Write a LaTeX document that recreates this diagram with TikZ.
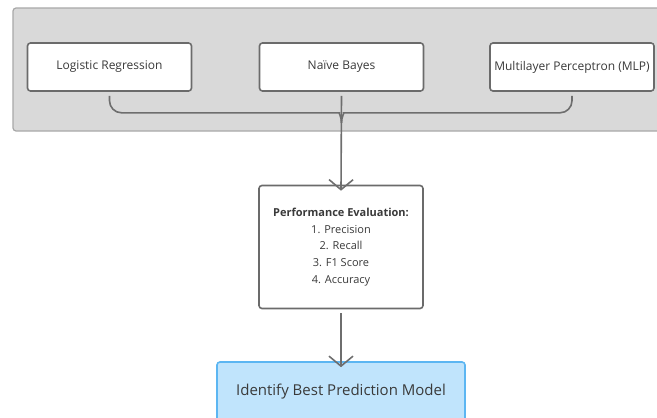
\documentclass[tikz,border=0pt]{standalone}
\usepackage{fontspec}
\setmainfont{Open Sans}
\usepackage{tikz}
\usetikzlibrary{arrows, arrows.meta}
\usetikzlibrary{positioning, calc}
\definecolor{panelgray}{HTML}{D9D9D9}
\definecolor{panelline}{HTML}{A8A8A8}
\definecolor{boxline}{HTML}{6B6B6B}
\definecolor{linkgray}{HTML}{6E6E6E}
\definecolor{textgray}{HTML}{3A3A3A}
\definecolor{bluefill}{HTML}{C0E4FC}
\definecolor{blueline}{HTML}{5CB6F2}

\begin{document}
\begin{tikzpicture}[x=1pt,y=-1pt]
\tikzstyle{every node}+=[inner sep=0pt, text=textgray]
\tikzstyle{card}=[draw=boxline, line width=1.6pt, fill=white, rounded corners=3pt]
\tikzstyle{model}=[card, minimum width=164pt, minimum height=48pt, font=\fontsize{12}{14}\selectfont]
\tikzstyle{evalbox}=[card, minimum width=164pt, minimum height=123pt, align=center,
  font=\fontsize{11}{16.8}\selectfont]
\tikzstyle{result}=[card, draw=blueline, fill=bluefill, minimum width=248pt, minimum height=60pt,
  font=\fontsize{15}{17}\selectfont]
\tikzstyle{link}=[draw=linkgray, line width=1.6pt]
\tikzstyle{arrowtip}=[-{Straight Barb[length=10pt,width=24pt]}]
\useasboundingbox (0,0) rectangle (657,418);
\clip (0,0) rectangle (657,418);
% panel behind the three models
\draw [draw=panelline, fill=panelgray, line width=1.2pt, rounded corners=3pt] (13,8) rectangle (680,131);
\node [model] (lr) at (109.5,67) {Logistic Regression};
\node [model] (nb) at (341.5,67) {Naïve Bayes};
\node [model] (mlp) at (572,67) {Multilayer Perceptron (MLP)};
\node [evalbox] (perf) at (341,247)
  {\textbf{Performance Evaluation:}\\1. Precision\\2. Recall\\3. F1 Score\\4. Accuracy};
\node [result] (best) at (341,392) {Identify Best Prediction Model};
% bracket joining the models
\coordinate (join) at ($(nb.south)+(0,31)$);
\draw [link, rounded corners=12pt] ([yshift=-4pt]lr.south) |- ($(join)+(-14,-10)$)
  .. controls ($(join)+(-3,-10)$) and ($(join)+(0,-6)$) .. (join);
\draw [link, rounded corners=12pt] ([yshift=-4pt]mlp.south) |- ($(join)+(14,-10)$)
  .. controls ($(join)+(3,-10)$) and ($(join)+(0,-6)$) .. (join);
\draw [link, arrowtip] ([yshift=-4pt]nb.south) -- ([yshift=-6pt]perf.north);
\draw [link, arrowtip] ([yshift=-4pt]perf.south) -- ([yshift=-6pt]best.north);
\end{tikzpicture}
\end{document}
